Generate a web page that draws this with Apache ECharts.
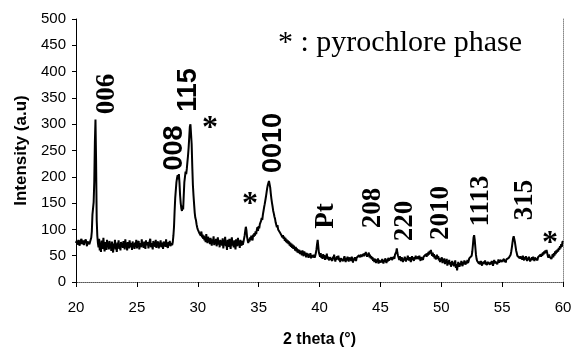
<!DOCTYPE html>
<html>
<head>
<meta charset="utf-8">
<script src="https://cdn.jsdelivr.net/npm/echarts@6/dist/echarts.min.js"></script>
<style>
  html, body { margin: 0; padding: 0; background: #fff; }
  #chart { width: 579px; height: 353px; }
</style>
</head>
<body>
<div id="chart"></div>
<script>
// scan sampled every 0.05 deg, split in blocks by starting angle
const stepDeg = 0.05;
const segStarts = [20, 28, 32, 40, 48, 56];

// 20.00 - 27.95 (006 peak)
const seg20 = [
  74,78,71,76,80,73,69,77,75,82,72,74,79,70,76,73,81,75,68,77,74,79,72,76,78,
  84,96,128,140,152,190,265,309,230,118,88,74,
  66,82,60,75,57,79,70,63,84,68,58,76,72,61,80,69,74,62,78,67,
  71,59,77,64,56,73,68,80,62,70,57,75,66,79,63,72,60,76,69,74,
  65,78,70,62,81,67,73,60,76,69,64,79,71,66,74,61,77,68,72,63,
  75,67,80,64,72,69,78,62,74,70,66,81,68,73,65,77,71,63,79,70,
  68,76,64,73,71,82,66,74,69,62,78,70,75,67,80,65,72,69,77,64,
  73,68,79,66,71,75,63,77,70,74,67,81,69,72,65,76,71,78,68,74,
  72,70,76
];
// 28.00 - 31.95 (008 / 115)
const seg28 = [
  88,105,135,160,175,190,198,203,195,205,188,165,150,140,135,145,138,165,190,200,
  210,205,215,228,240,255,275,295,300,298,262,220,185,165,148,132,122,118,110,104,
  100,97,103,92,95,88,96,85,90,82,
  88,79,85,76,91,80,74,86,78,83,
  72,84,77,69,81,75,87,70,79,73,
  82,68,76,85,71,78,66,80,74,77
];
// 32.00 - 39.95 (pyrochlore, 0010, Pt)
const seg32 = [
  70,83,64,78,72,86,68,75,61,80,
  74,67,82,71,63,77,85,69,76,66,
  79,72,62,81,74,68,84,70,77,65,
  80,73,69,78,71,76,
  82,88,97,105,98,86,79,
  74,82,77,85,80,88,83,79,90,86,93,88,96,91,99,104,97,106,
  102,110,107,116,122,118,128,135,142,148,155,162,170,178,184,188,192,
  190,180,168,158,150,143,135,130,124,120,113,110,104,108,100,97,102,94,96,90,
  92,85,89,82,86,78,84,76,81,74,79,
  72,77,69,75,67,73,65,71,63,69,66,
  60,67,58,64,56,62,55,61,53,59,
  57,51,60,54,49,58,52,56,47,55,
  50,54,46,52,48,55,45,51,49,53,
  47,52,46,50,55,
  62,72,80,68,56
];
// 40.00 - 47.95 (208, 220)
const seg40 = [
  52,48,55,46,50,44,53,47,51,42,
  49,45,54,43,48,51,41,47,44,50,
  46,40,48,43,52,45,39,47,42,49,
  44,50,41,46,38,45,48,42,47,40,
  45,49,43,38,46,41,48,44,39,47,
  42,46,40,48,43,37,45,41,47,44,
  40,46,43,49,45,51,47,44,52,48,
  50,46,53,49,55,51,57,52,48,54,
  50,56,47,52,45,49,43,47,40,45,
  38,44,41,36,43,39,45,35,42,37,
  34,41,37,44,39,35,42,38,45,40,
  36,43,39,46,41,38,44,40,47,42,
  45,41,48,44,52,49,57,64,55,50,
  46,42,49,44,40,47,43,38,45,41,
  48,44,39,46,42,50,45,41,47,43,
  38,45,49,42,46,40,47,43,50,44
];
// 48.00 - 55.95 (2010, 1113, 315)
const seg48 = [
  46,41,48,43,50,45,40,47,44,49,
  42,48,45,51,46,53,48,55,50,57,
  52,59,54,61,55,50,56,48,53,45,
  50,43,47,52,44,49,41,46,38,44,
  40,47,36,43,39,45,34,41,37,44,
  31,39,35,42,33,38,29,36,40,32,
  37,30,35,41,27,34,22,31,38,33,
  29,36,32,40,35,30,38,34,41,37,
  33,39,35,42,36,40,45,43,48,44,
  50,58,70,84,89,80,66,52,44,40,
  37,42,35,39,33,40,36,31,38,34,
  39,35,41,33,37,32,38,35,40,36,
  33,38,34,40,36,31,37,42,35,39,
  36,41,34,38,43,37,40,35,42,38,
  41,36,39,44,38,42,37,43,40,45,
  42,46,44,49,52,58,66,75,83,87
];
// 56.00 - 60.00
const seg56 = [
  84,76,68,60,55,50,53,47,51,45,
  49,44,48,42,50,45,41,47,43,49,
  44,40,46,42,48,43,39,45,41,47,
  42,48,44,40,46,43,49,45,41,47,
  44,50,46,52,48,54,50,56,52,58,
  54,60,56,61,55,50,46,52,48,45,
  50,44,48,53,47,55,50,58,53,60,
  56,62,58,65,61,68,64,72,67,76,
  78
];

// peak labels (pixel centres, rotated text)
const peakText = ['006', '008', '115', '*', '*', '0010', 'Pt', '208', '220', '2010', '1113', '315', '*'];
const peakX = [107, 175, 189, 210, 250, 274, 326, 373, 405, 441, 481, 525, 550];
const peakY = [94, 148, 90, 129, 205, 143, 216, 208, 221, 213, 201, 200, 244];
const peakSans = [false, true, true, false, false, true, false, false, false, false, false, false, false];

const segments = [seg20, seg28, seg32, seg40, seg48, seg56];
const scan = [];
segments.forEach((vals, s) => {
  vals.forEach((v, i) => scan.push([+(segStarts[s] + i * stepDeg).toFixed(2), v]));
});

const chart = echarts.init(document.getElementById('chart'));

const labels = peakText.map((t, i) => {
  const star = t === '*';
  return {
    type: 'text',
    x: peakX[i],
    y: peakY[i],
    rotation: star ? 0 : Math.PI / 2,
    z: 10,
    style: {
      text: t,
      fill: '#000',
      align: 'center',
      verticalAlign: 'middle',
      font: star
        ? 'bold 32px "Liberation Serif", serif'
        : (peakSans[i] ? 'bold 27px "Liberation Sans", Arial, sans-serif'
                       : 'bold 27px "Liberation Serif", "Times New Roman", serif')
    }
  };
});

const option = {
  animation: false,
  backgroundColor: '#fff',
  grid: { left: 76, right: 16, top: 19, bottom: 69, show: false },
  xAxis: [{
    type: 'value',
    min: 20, max: 60, interval: 5,
    name: '2 theta (°)',
    nameLocation: 'middle',
    nameGap: 50,
    nameTextStyle: { fontFamily: '"Liberation Sans", Arial', fontWeight: 'bold', fontSize: 16, color: '#000' },
    axisLine: { lineStyle: { color: '#000', width: 1 } },
    axisTick: { inside: false, length: 5, lineStyle: { color: '#000' } },
    axisLabel: { margin: 18, fontFamily: '"Liberation Sans", Arial', fontSize: 15, color: '#000' },
    splitLine: { show: false }
  }, {
    type: 'value', position: 'top', min: 20, max: 60,
    axisLine: { show: true, lineStyle: { color: '#888', type: 'dotted', width: 1 } },
    axisTick: { show: false }, axisLabel: { show: false }, splitLine: { show: false }
  }],
  yAxis: [{
    type: 'value',
    min: 0, max: 500, interval: 50,
    name: 'Intensity (a.u)',
    nameLocation: 'middle',
    nameGap: 45,
    nameTextStyle: { fontFamily: '"Liberation Sans", Arial', fontWeight: 'bold', fontSize: 17, color: '#000' },
    axisLine: { show: true, lineStyle: { color: '#000', width: 1 } },
    axisTick: { show: true, inside: false, length: 4, lineStyle: { color: '#000' } },
    axisLabel: { margin: 10, fontFamily: '"Liberation Sans", Arial', fontSize: 15, color: '#000' },
    splitLine: { show: false }
  }, {
    type: 'value', position: 'right', min: 0, max: 500,
    axisLine: { show: true, lineStyle: { color: '#888', type: 'dotted', width: 1 } },
    axisTick: { show: false }, axisLabel: { show: false }, splitLine: { show: false }
  }],
  series: [{
    type: 'line',
    data: scan,
    showSymbol: false,
    lineStyle: { color: '#000', width: 2 },
    silent: true
  }],
  graphic: labels.concat([{
    type: 'text',
    x: 278,
    y: 28,
    z: 10,
    style: {
      text: '* : pyrochlore phase',
      fill: '#000',
      align: 'left',
      verticalAlign: 'top',
      font: '30px "Liberation Serif", "Times New Roman", serif'
    }
  }])
};

chart.setOption(option);
</script>
</body>
</html>
